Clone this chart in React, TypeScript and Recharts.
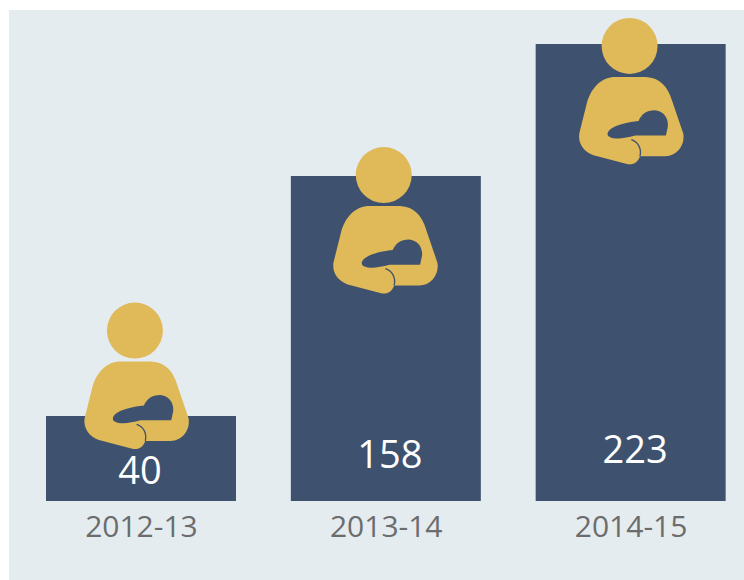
import React from 'react';
import { ComposedChart, Bar, Scatter, XAxis, YAxis, LabelList } from 'recharts';

const YEARS = ['2012-13', '2013-14', '2014-15'];
const VALUES = [40, 158, 223];
// where the head of each mother icon sits, read on the value axis
const ICON_LEVELS = [82, 158.5, 222];

const AXIS_MIN = -1.8;
const AXIS_MAX = 244.6;

const NAVY = '#3e526f';
const GOLD = '#e0b958';
const PANEL = '#e4ecf0';

const ICON_SHIFT = [-6.5, -2.5, -1.5];
const LABEL_SHIFT = [-1, 4, 4.5];
const LABEL_Y = [469, 453, 448];

const chartData = YEARS.map((year, i) => ({
  year,
  value: VALUES[i],
  span: [AXIS_MIN, VALUES[i]],
  icon: ICON_LEVELS[i],
}));

function MotherIcon(props: any) {
  const { cx, cy, index } = props;
  return (
    <g transform={`translate(${cx + ICON_SHIFT[index]},${cy}) scale(0.3333) translate(-223,-117)`}>
      <circle cx={223} cy={117} r={84} fill={GOLD} />
      <path
        fill={GOLD}
        d="M180 210 L272 210 C315 212 338 240 350 280 L384 380 C390 415 365 448 330 448 L254 448 C250 462 238 474 218 472 L115 445 C85 435 68 410 72 380 L96 284 C110 240 140 210 180 210 Z"
      />
      <path
        fill={NAVY}
        d="M157 380 C160 366 182 350 250 342 C258 322 275 310 298 310 C324 312 340 332 338 358 L332 386 L240 386 C215 392 195 397 175 394 C163 392 156 388 157 380 Z"
      />
      <path
        fill="none"
        stroke={NAVY}
        strokeWidth={4}
        d="M228 398 C248 404 260 425 254 448"
      />
    </g>
  );
}

function ValueLabel(props: any) {
  const { x, width, value, index } = props;
  return (
    <text
      x={x + width / 2 + LABEL_SHIFT[index]}
      y={LABEL_Y[index]}
      fill="#ffffff"
      fontFamily="Open Sans"
      fontSize={38}
      fontWeight={500}
      textAnchor="middle"
      dominantBaseline="central"
    >
      {value}
    </text>
  );
}

export default function App() {
  return (
    <div style={{ position: 'absolute', left: 0, top: 0, width: 744, height: 580, background: '#ffffff', overflow: 'hidden' }}>
      <div style={{ position: 'absolute', left: 9, top: 10, width: 735, height: 570, background: PANEL }} />
      <div style={{ position: 'absolute', left: 0, top: 0 }}>
        <ComposedChart
          width={772}
          height={580}
          data={chartData}
          margin={{ top: 0, right: 18.5, left: 19, bottom: 0 }}
          barCategoryGap={0}
        >
          <XAxis
            dataKey="year"
            axisLine={false}
            tickLine={false}
            height={79}
            tickMargin={9}
            tick={{ fill: '#6c6c6c', fontSize: 30, fontFamily: 'Open Sans' }}
            interval={0}
          />
          <YAxis hide domain={[AXIS_MIN, AXIS_MAX]} allowDataOverflow />
          <Bar dataKey="span" fill={NAVY} barSize={190} isAnimationActive={false}>
            <LabelList dataKey="value" content={ValueLabel} />
          </Bar>
          <Scatter dataKey="icon" shape={MotherIcon} isAnimationActive={false} />
        </ComposedChart>
      </div>
    </div>
  );
}
